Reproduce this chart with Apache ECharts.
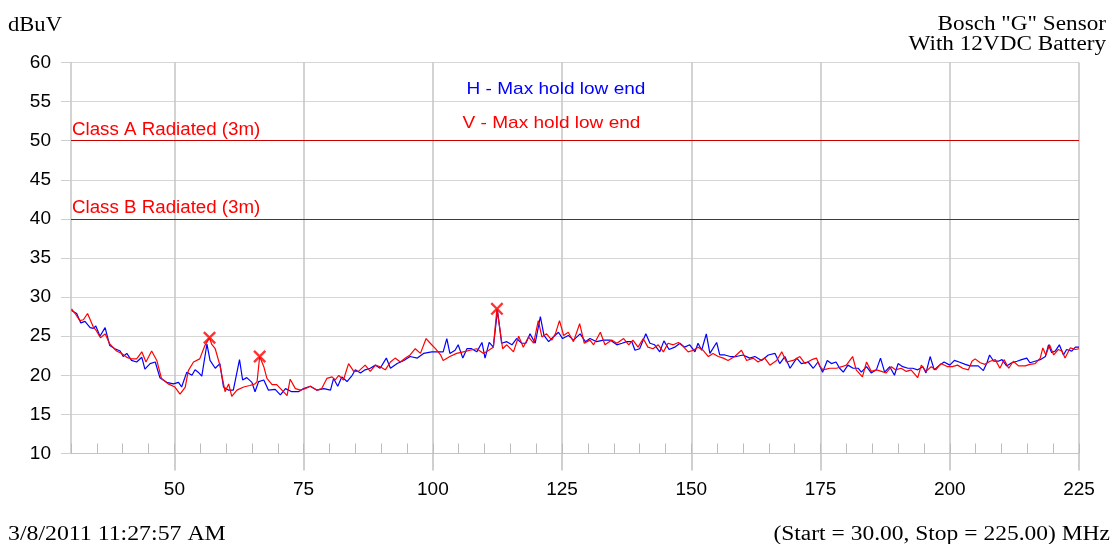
<!DOCTYPE html>
<html><head><meta charset="utf-8">
<script src="https://cdn.jsdelivr.net/npm/echarts@6/dist/echarts.min.js"></script>
<style>html,body{margin:0;padding:0;background:#fff}#c{width:1116px;height:544px}</style>
</head><body><div id="c"></div>
<script>
// ---- data ----
const hFreq = [30.1,31.1,31.9,32.7,33.7,34.3,34.8,35.6,36.6,37.5,38.5,39.5,40.1,40.8,41.7,42.7,43.7,44.3,45.3,46.3,47.2,48.5,49.8,50.8,51.4,52.4,53.4,54.0,54.6,55.3,56.3,56.9,57.9,58.8,59.5,60.5,61.4,62.6,63.2,64.0,65.0,65.6,66.3,67.3,68.2,69.5,70.5,71.5,72.7,74.0,75.0,76.3,77.6,78.9,80.2,80.8,81.6,82.4,83.4,84.4,85.0,86.0,86.9,87.9,88.9,89.8,91.0,91.8,93.1,94.4,95.6,97.0,98.2,99.8,101.1,102.0,102.7,103.3,104.3,104.9,105.8,106.6,107.5,108.5,109.5,110.1,110.9,111.7,112.5,113.3,114.3,115.3,116.2,117.2,118.0,118.8,119.8,120.8,121.5,122.4,123.3,124.3,125.1,126.2,127.2,128.5,129.5,130.4,131.7,133.0,134.3,135.6,136.6,137.5,138.5,139.1,140.0,141.2,142.0,142.9,143.9,144.7,145.7,146.8,147.8,148.7,149.7,150.7,151.3,152.0,152.9,153.6,154.9,155.5,156.5,157.5,158.7,160.0,161.3,162.3,163.6,164.9,166.2,167.1,168.1,169.1,170.4,171.3,172.6,173.6,174.5,175.4,176.3,177.1,178.0,178.7,179.4,180.3,181.3,182.3,182.9,183.9,184.8,185.8,186.6,187.4,188.4,189.3,190.0,190.9,191.9,192.8,193.8,194.8,195.4,196.2,197.0,198.0,198.9,200.0,200.9,201.8,203.0,203.9,204.9,205.5,206.5,207.2,207.7,208.5,209.4,210.1,211.0,212.0,213.0,213.9,214.9,215.5,216.5,217.5,218.5,219.1,219.7,220.4,221.2,222.0,222.6,223.6,224.3,225.0];
const hLevel = [28.3,27.9,26.7,26.9,26.1,26.0,26.3,25.0,26.1,23.8,23.4,23.1,22.4,22.8,21.9,21.7,22.3,20.8,21.5,21.7,19.7,19.1,18.9,19.1,18.5,20.4,20.0,20.7,20.4,19.9,24.0,21.9,20.9,21.5,18.5,18.1,18.1,22.0,19.4,19.7,19.1,17.9,19.2,19.4,18.1,18.2,17.5,18.3,17.9,17.9,18.3,18.6,18.1,18.3,18.1,19.6,18.6,19.8,19.2,20.0,20.7,20.3,20.7,20.9,21.3,20.9,22.2,20.9,21.5,21.9,22.4,22.2,22.8,23.0,23.0,23.0,24.7,22.8,23.2,23.9,22.2,23.4,23.4,23.0,24.2,22.2,24.2,23.6,28.3,24.1,24.3,23.9,24.7,24.1,24.1,25.3,24.1,27.5,25.1,24.3,24.9,25.5,24.7,25.1,24.5,25.3,24.3,24.7,24.3,24.5,24.5,23.9,24.1,24.3,24.3,23.2,23.4,25.3,24.1,23.9,23.0,24.4,23.3,23.6,24.1,23.6,23.9,23.0,24.1,23.2,25.3,22.8,24.2,22.6,22.6,22.4,22.4,22.6,22.2,22.4,21.9,22.6,22.8,21.5,22.4,20.9,22.2,21.5,21.7,20.9,21.7,20.4,21.9,21.5,21.7,20.9,20.4,21.3,20.9,20.9,20.4,21.1,20.3,20.7,22.2,20.4,21.1,20.0,21.5,21.1,20.9,20.9,20.7,21.1,20.3,22.4,20.7,21.3,21.7,21.3,21.9,21.7,21.4,21.2,21.2,21.2,20.6,21.6,22.6,21.8,21.8,22.0,21.2,21.6,21.8,22.0,22.2,21.6,21.8,22.0,22.4,23.9,22.9,23.1,23.9,22.6,23.3,23.1,23.6,23.6];
const vFreq = [30.1,30.8,31.7,32.4,33.2,34.3,34.9,35.7,36.6,37.5,38.8,39.8,40.8,41.7,42.7,43.7,44.5,45.6,46.6,47.5,48.8,50.1,51.1,52.1,52.7,53.7,54.9,55.9,56.8,57.2,57.9,58.8,59.8,60.5,61.1,62.1,63.4,64.6,65.6,66.0,66.5,67.3,67.9,68.9,69.8,70.8,71.8,72.4,73.4,74.4,75.3,76.3,77.6,78.5,79.5,80.5,81.1,81.8,82.7,83.7,84.7,85.6,86.9,87.9,88.9,89.8,90.8,91.8,92.7,93.7,94.7,95.6,96.6,97.6,98.7,99.5,100.5,101.5,102.0,103.3,104.6,105.9,107.2,108.5,109.8,110.8,111.7,112.4,113.0,113.5,114.3,115.6,116.6,117.5,118.5,119.5,120.4,121.1,122.0,123.0,123.7,124.5,125.3,126.2,127.2,128.4,129.3,130.4,131.1,132.4,133.3,134.6,135.6,136.9,137.9,138.7,139.7,140.7,141.6,142.6,143.6,144.6,145.5,146.5,147.5,148.4,149.4,150.4,151.3,152.3,153.3,154.2,155.2,156.2,157.1,158.4,159.7,160.7,162.0,162.9,164.2,165.2,166.5,167.5,168.4,169.7,171.0,172.0,173.3,174.2,174.9,175.5,176.8,178.1,179.1,180.0,181.2,181.9,183.1,183.9,184.8,185.8,186.8,187.7,188.7,189.5,190.6,191.6,192.5,193.8,194.5,195.4,196.4,197.3,198.3,199.6,200.5,201.5,202.5,203.6,204.3,204.9,205.9,206.8,207.8,208.8,209.7,210.5,211.4,212.3,213.3,214.6,215.5,216.5,217.5,218.0,218.6,219.3,220.1,221.0,221.7,222.3,223.3,224.3,225.0];
const vLevel = [28.5,27.9,27.0,27.1,27.9,26.2,25.7,24.8,25.3,24.0,23.1,22.8,22.3,22.1,22.1,23.0,21.7,23.1,21.9,19.6,18.9,18.5,17.6,18.5,20.6,21.7,22.1,23.8,24.8,24.0,23.4,21.3,17.9,18.9,17.3,18.1,18.5,18.7,18.9,19.2,22.4,21.1,19.6,18.8,18.8,18.1,17.4,19.5,18.3,18.1,18.3,18.6,18.1,18.3,19.6,19.8,19.4,20.0,19.4,21.5,20.5,20.5,21.3,20.5,21.3,21.1,20.7,21.7,22.2,21.7,22.2,22.6,23.4,22.8,24.7,24.1,23.4,22.6,21.9,22.4,22.8,23.0,23.2,23.4,22.8,23.2,23.6,28.5,25.8,23.4,23.9,23.0,25.0,23.6,24.9,24.1,27.0,24.9,25.3,24.5,25.3,27.0,25.1,25.5,24.3,26.6,24.1,24.5,23.9,25.5,23.9,24.5,24.1,24.7,23.9,24.5,23.6,24.7,23.6,23.4,23.9,23.0,24.1,23.9,24.2,23.7,23.0,23.2,23.6,23.2,22.4,22.8,22.4,22.2,21.9,22.4,23.2,21.9,22.2,21.7,22.2,21.3,21.9,23.0,21.7,21.9,22.4,21.5,22.0,22.2,21.1,20.7,20.9,20.9,21.1,21.3,22.4,20.7,19.8,21.7,20.5,20.7,20.5,20.3,21.1,20.7,20.9,20.5,20.7,19.7,21.3,20.5,21.1,20.7,21.5,21.1,21.1,21.3,20.9,20.7,21.8,22.1,21.6,21.4,21.8,22.0,20.9,22.0,20.9,21.8,21.2,21.2,21.4,21.5,22.2,23.5,22.6,23.9,22.6,23.3,23.1,22.2,23.5,23.3,23.4];
const peakFreq = [56.8, 66.5, 112.4];
const peakLevel = [24.8, 22.4, 28.5];
const limitLevels = [50, 40];
const limitNames = ['Class A Radiated (3m)', 'Class B Radiated (3m)'];
const xTickLabels = [50, 75, 100, 125, 150, 175, 200, 225];
const yMin = 10, yMax = 60, yStep = 5;
const xMin = 30, xMax = 225, xMinorStep = 5;
const hName = 'H - Max hold low end';
const vName = 'V - Max hold low end';

// ---- chart ----
const zip = (a, b) => a.map((v, i) => [v, b[i]]);
const chart = echarts.init(document.getElementById('c'), null, {renderer: 'canvas'});
const sans = 'Liberation Sans, Arial, sans-serif';
const serif = 'Liberation Serif, Times New Roman, serif';
const xPath = 'path://M0,1.3L1.3,0L5,3.7L8.7,0L10,1.3L6.3,5L10,8.7L8.7,10L5,6.3L1.3,10L0,8.7L3.7,5Z';
const serifFont = '20px ' + serif;

chart.setOption({
  animation: false,
  backgroundColor: '#fff',
  grid: {left: 71, right: 37, top: 62.5, bottom: 90.5},
  xAxis: [
    {type: 'value', min: xMin, max: xMax, interval: xMinorStep,
     axisLine: {show: true, lineStyle: {color: '#c4c4c4', width: 1}},
     axisTick: {show: true, inside: true, length: 10, lineStyle: {color: '#bcbcbc', width: 1}},
     axisLabel: {show: false}, splitLine: {show: false}},
    {type: 'value', min: xMin, max: xMax, position: 'bottom',
     axisLine: {show: false},
     axisTick: {show: true, customValues: xTickLabels, length: 17, lineStyle: {color: '#c0c0c0', width: 1.5}},
     axisLabel: {show: true, customValues: xTickLabels, margin: 27, fontSize: 19, color: '#000', fontFamily: sans},
     splitLine: {show: true, lineStyle: {color: '#c4c4c4', width: 1.5}}}
  ],
  yAxis: {type: 'value', min: yMin, max: yMax, interval: yStep,
    axisLine: {show: true, lineStyle: {color: '#c4c4c4', width: 1.5}},
    axisTick: {show: true, length: 10, lineStyle: {color: '#cfcfcf'}},
    axisLabel: {fontSize: 19, color: '#000', fontFamily: sans, margin: 20},
    splitLine: {show: true, lineStyle: {color: '#d6d6d6', width: 1}}},
  series: [
    {name: hName, type: 'line', xAxisIndex: 0, data: zip(hFreq, hLevel), symbol: 'none',
     lineStyle: {color: '#0000ff', width: 1.2}, z: 3},
    {name: vName, type: 'line', xAxisIndex: 0, data: zip(vFreq, vLevel), symbol: 'none',
     lineStyle: {color: '#ff0000', width: 1.2}, z: 4,
     markLine: {silent: true, symbol: 'none', animation: false,
       lineStyle: {color: '#c80000', width: 1, type: 'solid'},
       label: {show: false},
       data: limitLevels.map((v, i) => ({yAxis: v, name: limitNames[i]}))}},
    {type: 'scatter', xAxisIndex: 0, data: zip(peakFreq, peakLevel), symbol: xPath, symbolSize: 13,
     itemStyle: {color: '#ff0000'}, z: 5}
  ]
});

const x0 = chart.convertToPixel({xAxisIndex: 0}, xMin);
const limitLabels = limitLevels.map((v, i) => ({
  type: 'text', x: x0 + 1, y: chart.convertToPixel({yAxisIndex: 0}, v) - 10.5, scaleX: 1.07,
  style: {text: limitNames[i], font: '17.5px ' + sans, fill: '#ff0000', verticalAlign: 'middle'}
}));

chart.setOption({
  graphic: [
    {type: 'text', x: 8, y: 25.3, scaleX: 1.13, style: {text: 'dBuV', font: serifFont, fill: '#000', verticalAlign: 'middle'}},
    {type: 'text', x: 1106, y: 24.5, scaleX: 1.16, style: {text: 'Bosch "G" Sensor', font: serifFont, fill: '#000', align: 'right', verticalAlign: 'middle'}},
    {type: 'text', x: 1106, y: 44.3, scaleX: 1.16, style: {text: 'With 12VDC Battery', font: serifFont, fill: '#000', align: 'right', verticalAlign: 'middle'}},
    {type: 'text', x: 8, y: 534.5, scaleX: 1.19, style: {text: '3/8/2011 11:27:57 AM', font: serifFont, fill: '#000', verticalAlign: 'middle'}},
    {type: 'text', x: 1110, y: 534.5, scaleX: 1.175, style: {text: '(Start = 30.00, Stop = 225.00) MHz', font: serifFont, fill: '#000', align: 'right', verticalAlign: 'middle'}},
    {type: 'text', x: 556, y: 89, scaleX: 1.12, style: {text: hName, font: '17px ' + sans, fill: '#0000ff', align: 'center', verticalAlign: 'middle'}},
    {type: 'text', x: 551.5, y: 123.5, scaleX: 1.12, style: {text: vName, font: '17px ' + sans, fill: '#ff0000', align: 'center', verticalAlign: 'middle'}}
  ].concat(limitLabels)
});
</script></body></html>
